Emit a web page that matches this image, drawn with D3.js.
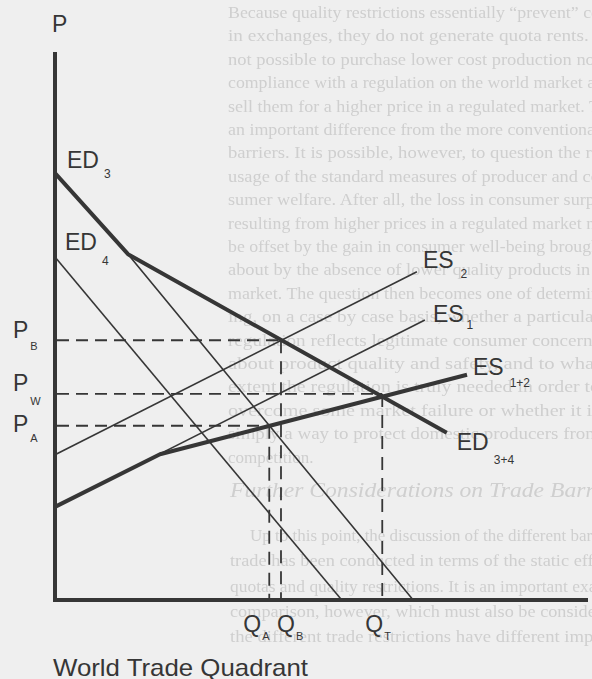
<!DOCTYPE html>
<html><head><meta charset="utf-8">
<script src="https://cdn.jsdelivr.net/npm/d3@7"></script>
<style>html,body{margin:0;padding:0;background:#efefef;overflow:hidden;} svg{display:block;}</style>
</head><body>
<svg id="chart" width="592" height="679"></svg>
<script>
// ---------- data (quantity, price) ----------
const ED3  = [[0,77.9],[13.7,63.1],[67.2,0]];
const ED4  = [[0,62.6],[53.8,0]];
const ES1  = [[0,17.0],[69.4,51.1]];
const ES2  = [[0,26.5],[67.9,59.9]];
const ED34 = [[0,77.9],[13.7,63.1],[73.5,30.5]];
const ES12 = [[0,17.0],[19.7,26.6],[77.3,41.1]];
const priceNames   = ["B","W","A"];
const priceLevels  = [47.4, 37.6, 31.8];
const priceReach   = [42.4, 61.4, 40.2];   // quantity where each price dash ends
const qtyNames     = ["A","B","T"];
const qtyLevels    = [40.2, 42.4, 61.4];
const qtyReach     = [31.8, 47.4, 37.6];   // price where each quantity dash ends
const titleText    = "World Trade Quadrant";
const bleedUpper = [
 "Because quality restrictions essentially \u201cprevent\u201d co",
 "in exchanges, they do not generate quota rents. I",
 "not possible to purchase lower cost production not",
 "compliance with a regulation on the world market at",
 "sell them for a higher price in a regulated market. T",
 "an important difference from the more conventional",
 "barriers. It is possible, however, to question the re",
 "usage of the standard measures of producer and co",
 "sumer welfare. After all, the loss in consumer surpl",
 "resulting from higher prices in a regulated market m",
 "be offset by the gain in consumer well-being brough",
 "about by the absence of lower quality products in t",
 "market. The question then becomes one of determin",
 "ing, on a case by case basis, whether a particular",
 "regulation reflects legitimate consumer concerns",
 "about product quality and safety, and to what",
 "extent the regulation is truly needed in order to",
 "overcome some market failure or whether it is",
 "simply a way to protect domestic producers from",
 "competition."
];
const bleedHeading = "Further Considerations on Trade Barriers";
const bleedLower = [
 "Up to this point, the discussion of the different barrie",
 "trade has been conducted in terms of the static effec",
 "quotas and quality restrictions. It is an important exam",
 "comparison, however, which must also be considere",
 "the different trade restrictions have different impac"
];

// ---------- drawing ----------
const svg = d3.select("#chart");
const ink = "#363636";
const x = d3.scaleLinear().domain([0,100]).range([55,588]);
const y = d3.scaleLinear().domain([0,100]).range([600,52]);
const line = d3.line().x(d=>x(d[0])).y(d=>y(d[1]));

svg.append("defs").append("filter").attr("id","soft")
  .append("feGaussianBlur").attr("stdDeviation",0.45);

// faint show-through text of the scanned page
const bleed = svg.append("g").attr("fill","#cfcfcf").attr("filter","url(#soft)")
  .attr("font-family","Liberation Serif, DejaVu Serif, serif");
bleed.selectAll("text.u").data(bleedUpper).join("text")
  .attr("x",228).attr("y",(d,i)=>18+23.4*i).attr("font-size",17)
  .each(function(d,i){ if(i<bleedUpper.length-1) d3.select(this).attr("textLength",372).attr("lengthAdjust","spacingAndGlyphs"); })
  .text(d=>d);
bleed.append("text").attr("x",230).attr("y",497).attr("font-size",21).attr("font-style","italic")
  .attr("textLength",400).attr("lengthAdjust","spacingAndGlyphs").text(bleedHeading);
bleed.selectAll("text.l").data(bleedLower).join("text")
  .attr("x",(d,i)=>i===0?250:230).attr("y",(d,i)=>541+25.3*i).attr("font-size",17)
  .attr("textLength",(d,i)=>i===0?360:380).attr("lengthAdjust","spacingAndGlyphs")
  .text(d=>d);

// dashed guides
const g = svg.append("g");
priceLevels.forEach((p,i)=>{
  g.append("line").attr("x1",x(0)+2).attr("x2",x(priceReach[i])).attr("y1",y(p)).attr("y2",y(p))
   .attr("stroke",ink).attr("stroke-width",1.8).attr("stroke-dasharray","12,7");
});
qtyLevels.forEach((q,i)=>{
  g.append("line").attr("x1",x(q)).attr("x2",x(q)).attr("y1",y(qtyReach[i])).attr("y2",y(0))
   .attr("stroke",ink).attr("stroke-width",1.8).attr("stroke-dasharray","13,8");
});

// thin curves
[ED3, ED4, ES1, ES2].forEach(s=>{
  g.append("path").attr("d",line(s)).attr("fill","none").attr("stroke",ink).attr("stroke-width",1.6);
});
// thick aggregate curves
[ED34, ES12].forEach(s=>{
  g.append("path").attr("d",line(s)).attr("fill","none").attr("stroke",ink).attr("stroke-width",4)
   .attr("stroke-linejoin","round");
});

// axes
g.append("path").attr("d",`M${x(0)},${y(100)}V${y(0)}H${x(100)}`)
  .attr("fill","none").attr("stroke",ink).attr("stroke-width",4);

// labels
const font = "Liberation Sans, Arial, Helvetica, sans-serif";
function label(px, py, main, sub, gap, subDy, size, subSize){
  const t = svg.append("text").attr("x",px).attr("y",py).attr("font-family",font)
    .attr("font-size",size||23).attr("fill",ink).text(main);
  const w = t.node().getComputedTextLength();
  if(sub) svg.append("text").attr("x",px+w+gap).attr("y",py+subDy).attr("font-family",font)
    .attr("font-size",subSize||12).attr("fill",ink).text(sub);
}
label(x(0)-3, 32, "P", null);
label(x(ED3[0][0])+12, y(ED3[0][1])-5, "ED", "3", 5, 10);
label(x(ED4[0][0])+10, y(ED4[0][1])-7, "ED", "4", 5, 15);
label(x(ES2[1][0])+6, y(ES2[1][1])-4, "ES", "2", 7, 10);
label(x(ES1[1][0])+8, y(ES1[1][1])+2, "ES", "1", 3, 7);
label(x(ES12[2][0])+6, y(ES12[2][1]), "ES", "1+2", 6, 12);
label(x(ED34[2][0])+10, y(ED34[2][1])+17, "ED", "3+4", 5, 14);
const pDy = [-2,-3,6], pSubDy=[12,14,10];
priceLevels.forEach((p,i)=> label(13, y(p)+pDy[i], "P", priceNames[i], 2, pSubDy[i], 23, 11));
const qDx = [-26,-4,-17];
qtyLevels.forEach((q,i)=> label(x(q)+qDx[i], 632, "Q", qtyNames[i], 1, 8, 23, 11));
svg.append("text").attr("x",53).attr("y",676).attr("font-family",font).attr("font-size",24)
  .attr("fill",ink).attr("textLength",255).attr("lengthAdjust","spacingAndGlyphs").text(titleText);
</script>
</body></html>
